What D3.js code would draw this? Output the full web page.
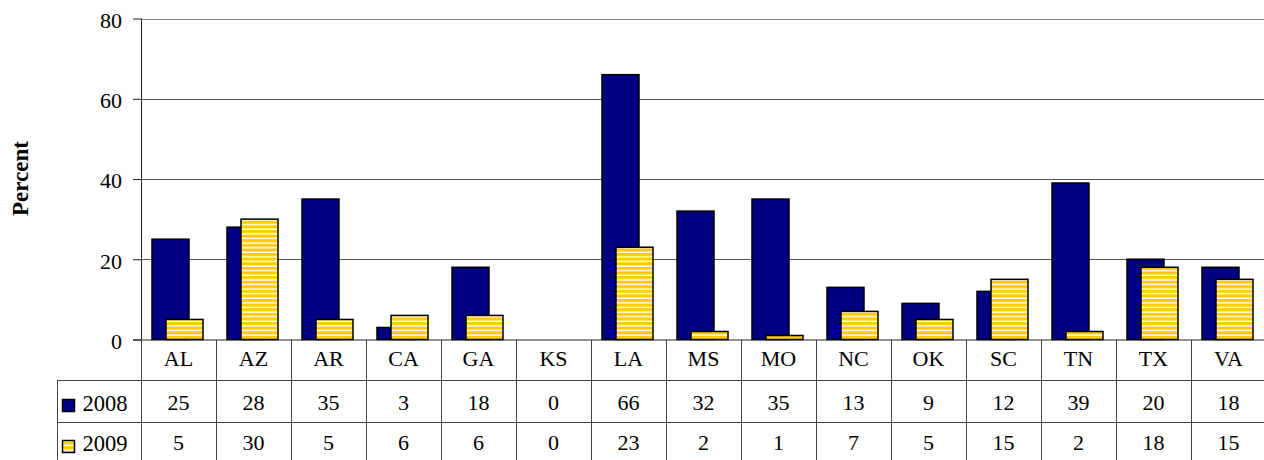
<!DOCTYPE html>
<html>
<head>
<meta charset="utf-8">
<script src="https://cdn.jsdelivr.net/npm/d3@7"></script>
<style>
  body { margin: 0; background: #fff; }
  svg text { font-family: "Liberation Serif", "Times New Roman", serif; }
</style>
</head>
<body>
<div id="canvas"></div>
<script>
// chart data
const states = ["AL", "AZ", "AR", "CA", "GA", "KS", "LA", "MS", "MO", "NC", "OK", "SC", "TN", "TX", "VA"];
const values2008 = [25, 28, 35, 3, 18, 0, 66, 32, 35, 13, 9, 12, 39, 20, 18];
const values2009 = [5, 30, 5, 6, 6, 0, 23, 2, 1, 7, 5, 15, 2, 18, 15];
const seriesNames = ["2008", "2009"];
const yTicks = [0, 20, 40, 60, 80];

const width = 1264, height = 460;
const plotLeft = 141, catWidth = 75;
const plotTop = 18.5, plotBottom = 339.5;
const rowLines = [340, 380, 422, 462];
const legendLeft = 57;
const fontSize = 22;

let svg = d3.select("#canvas")
    .append("svg")
    .attr("width", width)
    .attr("height", height);

// yellow striped fill for 2009
let pat = svg.append("defs").append("pattern")
    .attr("id", "stripes")
    .attr("patternUnits", "userSpaceOnUse")
    .attr("width", 8)
    .attr("height", 4.6);
pat.append("rect").attr("width", 8).attr("height", 4.6).attr("fill", "#fff");
pat.append("rect").attr("width", 8).attr("height", 3.2).attr("fill", "#ffcc00");

let x = d3.scaleBand()
    .domain(states)
    .range([plotLeft, plotLeft + catWidth * states.length]);

let y = d3.scaleLinear()
    .domain([0, 80])
    .range([plotBottom, plotTop]);

// gridlines
svg.append("g")
    .selectAll("line")
    .data(yTicks.filter(d => d > 0))
    .enter()
    .append("line")
    .attr("x1", plotLeft)
    .attr("x2", width)
    .attr("y1", d => Math.round(y(d)) + 0.5)
    .attr("y2", d => Math.round(y(d)) + 0.5)
    .attr("stroke", d => d === 80 ? "#888" : "#555")
    .attr("stroke-width", 1);

// y axis
let yAxis = svg.append("g")
    .attr("transform", "translate(" + plotLeft + ",0)")
    .call(d3.axisLeft(y).tickValues(yTicks).tickSize(8).tickPadding(11));
yAxis.attr("font-family", null).attr("font-size", null);
yAxis.select(".domain").attr("stroke", "#222").attr("d", "M0.5," + plotTop + "V" + plotBottom);
yAxis.selectAll(".tick line").attr("stroke", "#222");
yAxis.selectAll(".tick text")
    .attr("font-size", fontSize)
    .attr("dy", "0.4em")
    .attr("fill", "#000");

svg.append("text")
    .attr("transform", "translate(28," + 178.5 + ") rotate(-90)")
    .attr("text-anchor", "middle")
    .attr("font-size", 23)
    .attr("font-weight", "bold")
    .text("Percent");

// bars
const barW = 37;
let bars = svg.append("g");
bars.selectAll(".b2008")
    .data(states)
    .enter()
    .append("rect")
    .attr("class", "b2008")
    .attr("x", d => x(d) + x.bandwidth() / 2 - 26.5)
    .attr("y", (d, i) => y(values2008[i]))
    .attr("width", barW)
    .attr("height", (d, i) => y(0) - y(values2008[i]))
    .attr("fill", "#000080")
    .attr("stroke", "#000")
    .attr("stroke-width", 1.5)
    .style("display", (d, i) => values2008[i] === 0 ? "none" : null);

bars.selectAll(".b2009")
    .data(states)
    .enter()
    .append("rect")
    .attr("class", "b2009")
    .attr("x", d => x(d) + x.bandwidth() / 2 - 12.5)
    .attr("y", (d, i) => y(values2009[i]))
    .attr("width", barW)
    .attr("height", (d, i) => y(0) - y(values2009[i]))
    .attr("fill", "url(#stripes)")
    .attr("stroke", "#000")
    .attr("stroke-width", 1.5)
    .style("display", (d, i) => values2009[i] === 0 ? "none" : null);

// axis baseline
svg.append("line")
    .attr("x1", plotLeft - 8).attr("x2", width)
    .attr("y1", plotBottom + 0.5).attr("y2", plotBottom + 0.5)
    .attr("stroke", "#222");

// data table
let table = svg.append("g").attr("stroke", "#444").attr("stroke-width", 1);
table.selectAll(".hline")
    .data(rowLines.slice(1, 3))
    .enter()
    .append("line")
    .attr("x1", legendLeft).attr("x2", width)
    .attr("y1", d => d + 0.5).attr("y2", d => d + 0.5);
table.append("line")
    .attr("x1", legendLeft + 0.5).attr("x2", legendLeft + 0.5)
    .attr("y1", rowLines[1]).attr("y2", height);
table.selectAll(".vline")
    .data(states)
    .enter()
    .append("line")
    .attr("x1", d => Math.round(x(d)) + 0.5)
    .attr("x2", d => Math.round(x(d)) + 0.5)
    .attr("y1", rowLines[0])
    .attr("y2", height);

svg.append("g")
    .selectAll("text")
    .data(states)
    .enter()
    .append("text")
    .attr("x", d => x(d) + x.bandwidth() / 2)
    .attr("y", 366)
    .attr("text-anchor", "middle")
    .attr("font-size", fontSize)
    .text(d => d);

[values2008, values2009].forEach((vals, r) => {
    svg.append("g")
        .selectAll("text")
        .data(vals)
        .enter()
        .append("text")
        .attr("x", (d, i) => x(states[i]) + x.bandwidth() / 2)
        .attr("y", r === 0 ? 409.5 : 449.5)
        .attr("text-anchor", "middle")
        .attr("font-size", fontSize)
        .text(d => d);
});

// legend keys in table
seriesNames.forEach((name, r) => {
    let ky = r === 0 ? 399.5 : 440.5;
    svg.append("rect")
        .attr("x", 62.5).attr("y", ky)
        .attr("width", 12).attr("height", 12)
        .attr("fill", r === 0 ? "#000080" : "url(#stripes)")
        .attr("stroke", "#000")
        .attr("stroke-width", 1.5);
    svg.append("text")
        .attr("x", 82.5)
        .attr("y", r === 0 ? 411 : 451)
        .attr("font-size", 22.5)
        .text(name);
});
</script>
</body>
</html>
